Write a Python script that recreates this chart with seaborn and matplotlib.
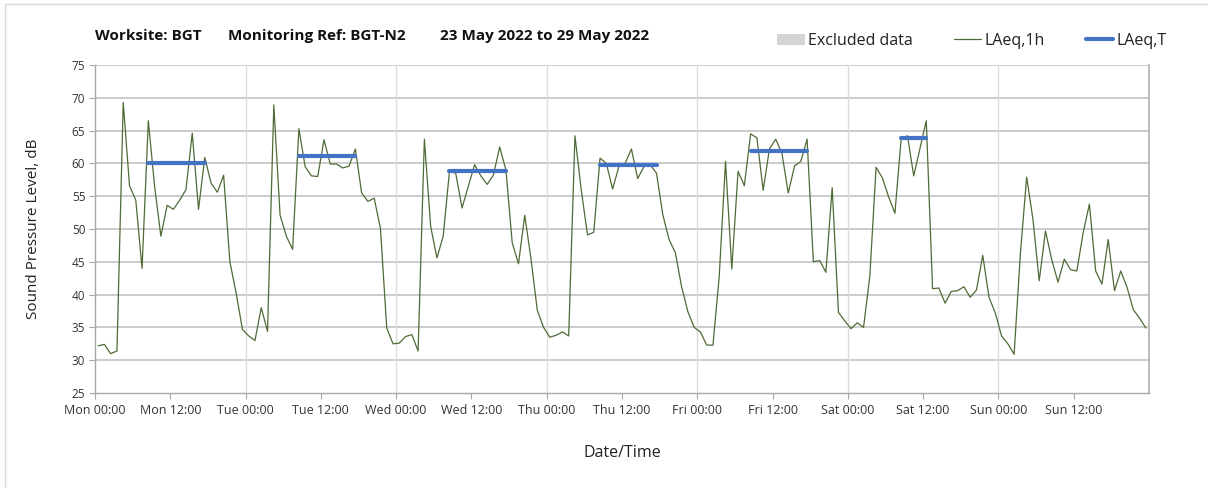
import numpy as np
import pandas as pd
import matplotlib
matplotlib.use("Agg")
import matplotlib.pyplot as plt
import matplotlib.patches as mpatches
from matplotlib.lines import Line2D
import seaborn as sns

# ---- data -------------------------------------------------------------
laeq_1h = [
    # Mon
    32.2, 32.4, 31.0, 31.4, 69.3, 56.6, 54.4, 44.0, 66.5, 56.5, 48.9, 53.6,
    53.0, 54.4, 56.0, 64.6, 53.0, 60.9, 57.0, 55.6, 58.2, 45.0, 40.2, 34.7,
    # Tue
    33.7, 33.0, 38.0, 34.4, 68.9, 52.1, 48.9, 46.9, 65.3, 59.5, 58.1, 58.0,
    63.6, 59.9, 59.9, 59.3, 59.6, 62.2, 55.5, 54.2, 54.7, 50.1, 34.9, 32.5,
    # Wed
    32.6, 33.6, 33.9, 31.4, 63.7, 50.4, 45.6, 48.9, 58.8, 58.5, 53.2, 56.5,
    59.8, 58.1, 56.8, 58.2, 62.5, 59.0, 47.9, 44.7, 52.1, 45.4, 37.6, 35.0,
    # Thu
    33.5, 33.8, 34.3, 33.7, 64.2, 56.0, 49.1, 49.5, 60.8, 60.0, 56.1, 59.5,
    60.0, 62.2, 57.7, 59.5, 59.8, 58.5, 52.2, 48.4, 46.4, 41.2, 37.4, 35.0,
    # Fri
    34.3, 32.3, 32.3, 42.8, 60.3, 43.9, 58.8, 56.6, 64.5, 63.9, 55.9, 62.2,
    63.7, 61.5, 55.5, 59.6, 60.3, 63.7, 45.0, 45.2, 43.4, 56.3, 37.3, 36.0,
    # Sat
    34.8, 35.7, 35.0, 42.8, 59.4, 57.8, 54.9, 52.4, 63.8, 64.2, 58.1, 62.3,
    66.5, 40.9, 41.0, 38.7, 40.5, 40.6, 41.2, 39.6, 40.7, 46.0, 39.6, 37.2,
    # Sun
    33.7, 32.5, 30.9, 46.3, 57.9, 51.5, 42.1, 49.7, 45.3, 41.9, 45.4, 43.8,
    43.6, 49.4, 53.8, 43.6, 41.6, 48.4, 40.6, 43.6, 41.1, 37.7, 36.4, 34.9,
]
hours = list(range(len(laeq_1h)))

# LAeq,T daytime periods: (first hour, last hour, value)
period_start = [8, 32, 56, 80, 104, 128]
period_end = [17, 41, 65, 89, 113, 132]
laeq_t = [60.1, 61.1, 58.8, 59.7, 61.9, 63.8]

tick_hours = list(range(0, 168, 12))
tick_labels = ["Mon 00:00", "Mon 12:00", "Tue 00:00", "Tue 12:00",
               "Wed 00:00", "Wed 12:00", "Thu 00:00", "Thu 12:00",
               "Fri 00:00", "Fri 12:00", "Sat 00:00", "Sat 12:00",
               "Sun 00:00", "Sun 12:00"]
y_ticks = list(range(25, 80, 5))

title_parts = ["Worksite: BGT", "Monitoring Ref: BGT-N2", "23 May 2022 to 29 May 2022"]

# ---- frames -----------------------------------------------------------
df = pd.DataFrame({"hour": np.array(hours) + 0.5, "level": laeq_1h})
rows = []
for i, (s, e, v) in enumerate(zip(period_start, period_end, laeq_t)):
    rows.append({"period": i, "hour": s + 0.5, "level": v})
    rows.append({"period": i, "hour": e + 0.5, "level": v})
df_t = pd.DataFrame(rows)

# ---- plot -------------------------------------------------------------
sns.set_theme(style="white")
plt.rcParams["font.family"] = ["Open Sans", "DejaVu Sans"]

fig = plt.figure(figsize=(12.08, 4.88), dpi=100)
ax = fig.add_axes([95 / 1208, 1 - 393 / 488, (1149 - 95) / 1208, (393 - 65) / 488])

GREEN = "#4e6b37"
BLUE = "#4472c4"

sns.lineplot(data=df, x="hour", y="level", ax=ax, color=GREEN, linewidth=0.9,
             zorder=3, legend=False)
sns.lineplot(data=df_t, x="hour", y="level", units="period", estimator=None,
             ax=ax, color=BLUE, linewidth=3.0, zorder=4, legend=False)

ax.set_xlim(0, 168)
ax.set_ylim(25, 75)
ax.set_yticks(y_ticks)
ax.set_xticks(tick_hours)
ax.set_xticklabels(tick_labels)

# grid
for yv in y_ticks[1:]:
    ax.axhline(yv, color="#c4c4c4", linewidth=1.2, zorder=1)
for xv in range(24, 168, 24):
    ax.axvline(xv, color="#dcdcdc", linewidth=1.0, zorder=1)

for side in ["left", "bottom"]:
    ax.spines[side].set_color("#a6a6a6")
    ax.spines[side].set_linewidth(1.0)
ax.spines["top"].set_visible(False)
ax.spines["right"].set_color("#b0b0b0")
ax.spines["right"].set_linewidth(1.2)

ax.tick_params(axis="x", which="major", direction="out", length=4, width=0.8,
               color="#a6a6a6", labelsize=9, labelcolor="#333333", pad=4)
ax.tick_params(axis="y", direction="out", length=4, width=0.8, color="#a6a6a6",
               labelsize=8.5, labelcolor="#333333", pad=3)
ax.tick_params(left=True, bottom=True)

ax.set_xlabel("Date/Time", fontsize=11.5, color="#222222", labelpad=20)
ax.set_ylabel("Sound Pressure Level, dB", fontsize=11, color="#222222", labelpad=22)

# title (three pieces, as spaced in the reference)
for xpix, part in zip([95, 228, 440], title_parts):
    fig.text(xpix / 1208, 1 - 36 / 488, part, fontsize=11, fontweight="bold",
             color="#111111", va="center", ha="left")

# legend
handles = [mpatches.Patch(facecolor="#d4d4d4", edgecolor="none"),
           Line2D([0], [0], color=GREEN, linewidth=0.9),
           Line2D([0], [0], color=BLUE, linewidth=3.0)]
fig.legend(handles, ["Excluded data", "LAeq,1h", "LAeq,T"], ncol=3,
           loc="center", bbox_to_anchor=(972 / 1208, 1 - 41 / 488),
           frameon=False, fontsize=11.5, handlelength=1.7, handletextpad=0.2,
           columnspacing=2.6, labelcolor="#222222")

# outer frame (top and left edge)
fig.add_artist(Line2D([5 / 1208, 5 / 1208], [0, 1 - 4 / 488],
                      transform=fig.transFigure, color="#d8d8d8", linewidth=1.0))
fig.add_artist(Line2D([5 / 1208, 1], [1 - 4 / 488, 1 - 4 / 488],
                      transform=fig.transFigure, color="#d8d8d8", linewidth=1.0))

fig.savefig("out.png", dpi=100)
